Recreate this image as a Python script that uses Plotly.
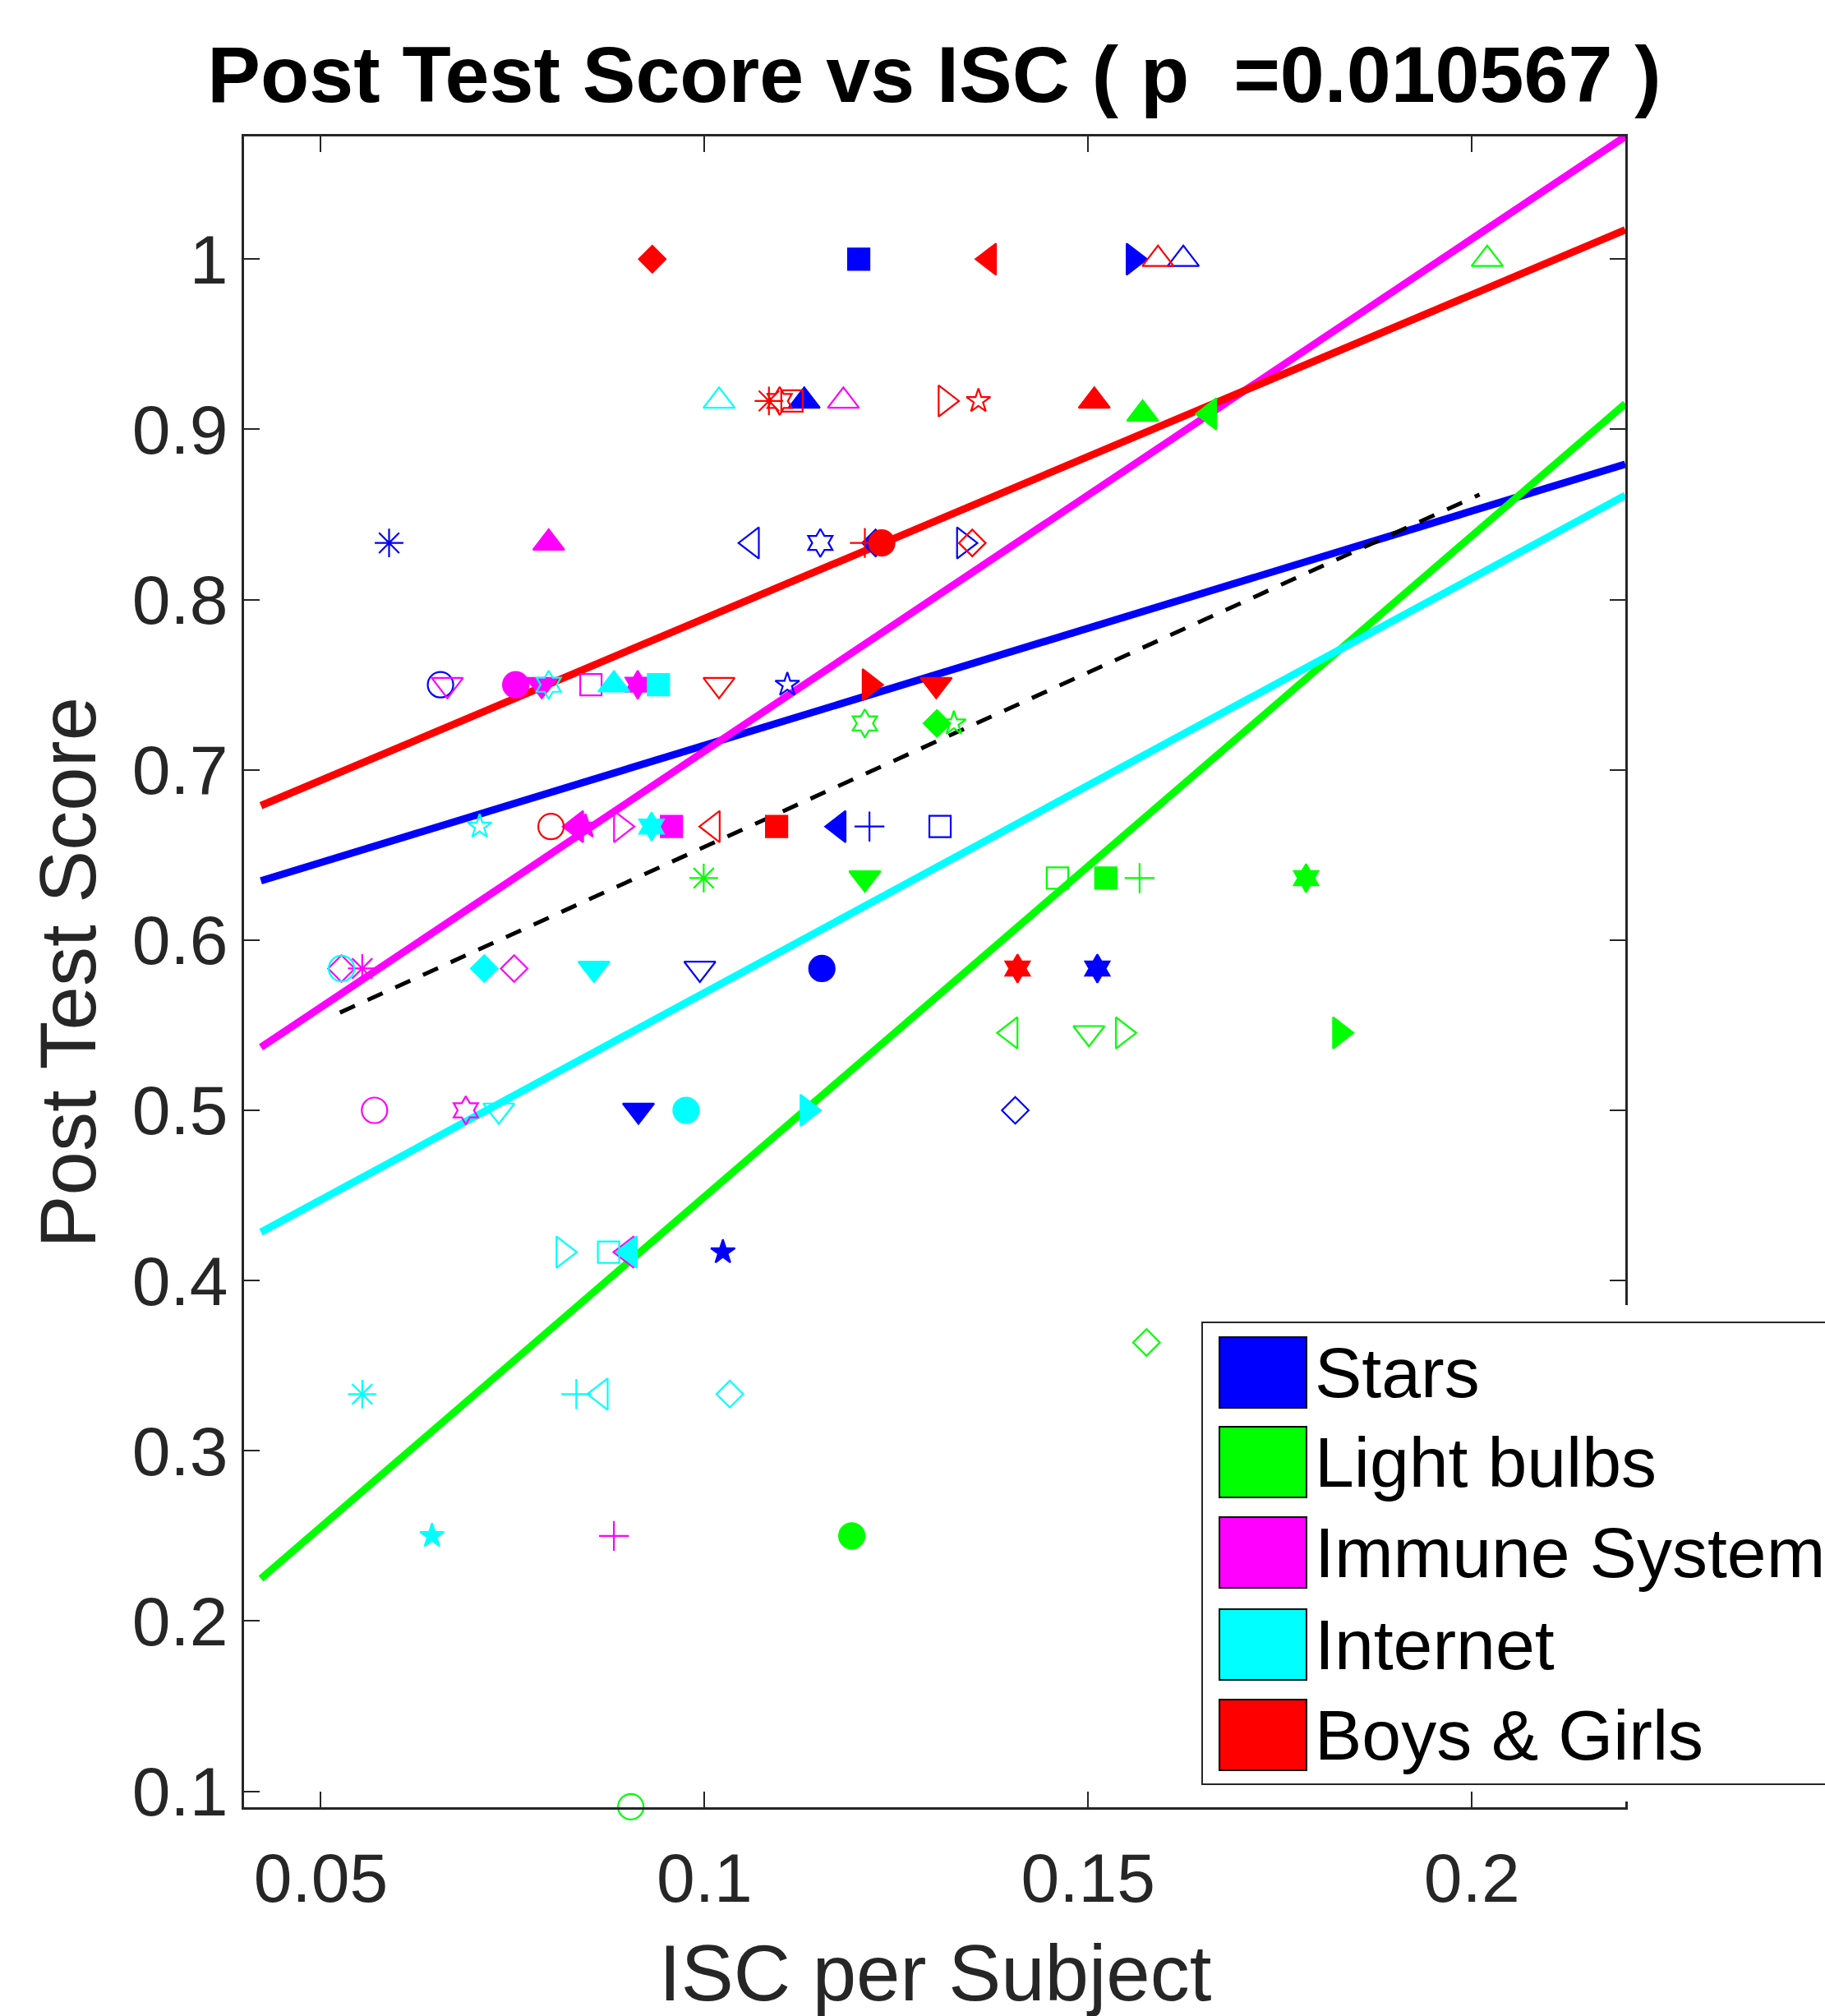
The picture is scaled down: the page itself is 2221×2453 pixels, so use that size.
import plotly.graph_objects as go

# ---------------- data ----------------
topics = ["Stars", "Light bulbs", "Immune System", "Internet", "Boys & Girls"]
topic_colors = ["#0000FF", "#00FF00", "#FF00FF", "#00FFFF", "#FF0000"]

stars_x = [0.0589, 0.0656, 0.1201, 0.1559, 0.1624, 0.1130, 0.1062, 0.1151, 0.1223, 0.1338,
           0.1108, 0.1175, 0.1215, 0.1307, 0.0994, 0.1153, 0.1512, 0.0914, 0.1405, 0.1024]
stars_y = [0.8333, 0.75, 1.0, 1.0, 1.0, 0.9167, 0.8333, 0.8333, 0.8333, 0.8333,
           0.75, 0.6667, 0.6667, 0.6667, 0.5833, 0.5833, 0.5833, 0.5, 0.5, 0.4167]
stars_subject = ["asterisk-open", "circle-open", "square", "triangle-right", "triangle-up-open",
                 "triangle-up", "triangle-left-open", "hexagram-open", "diamond", "triangle-right-open",
                 "star-open", "triangle-left", "cross-thin-open", "square-open", "triangle-down-open",
                 "circle", "hexagram", "triangle-down", "diamond-open", "star"]

bulbs_x = [0.2020, 0.1571, 0.1658, 0.1209, 0.1303, 0.1325, 0.0999, 0.1209, 0.1460, 0.1523,
           0.1567, 0.1784, 0.1399, 0.1501, 0.1545, 0.1828, 0.1576, 0.1192, 0.0904]
bulbs_y = [1.0, 0.9091, 0.9091, 0.7273, 0.7273, 0.7273, 0.6364, 0.6364, 0.6364, 0.6364,
           0.6364, 0.6364, 0.5455, 0.5455, 0.5455, 0.5455, 0.3636, 0.25, 0.0909]
bulbs_subject = ["triangle-up-open", "triangle-up", "triangle-left", "hexagram-open", "diamond",
                 "star-open", "asterisk-open", "triangle-down", "square-open", "square",
                 "cross-thin-open", "hexagram", "triangle-left-open", "triangle-down-open",
                 "triangle-right-open", "triangle-right", "diamond-open", "circle", "circle-open"]

immune_x = [0.0797, 0.0665, 0.0754, 0.0788, 0.0852, 0.0913, 0.1181, 0.0833, 0.0845, 0.0891,
            0.0957, 0.0527, 0.0554, 0.0752, 0.0570, 0.0689, 0.0882, 0.0899]
immune_y = [0.8333, 0.75, 0.75, 0.75, 0.75, 0.75, 0.9167, 0.6667, 0.6667, 0.6667,
            0.6667, 0.5833, 0.5833, 0.5833, 0.5, 0.5, 0.25, 0.4167]
immune_subject = ["triangle-up", "triangle-down-open", "circle", "triangle-down", "square-open",
                  "hexagram", "triangle-up-open", "triangle-left", "star", "triangle-right-open",
                  "square", "diamond-open", "asterisk-open", "diamond-open", "circle-open",
                  "hexagram-open", "cross-thin-open", "triangle-left-open"]

internet_x = [0.1019, 0.0797, 0.0882, 0.0940, 0.0707, 0.0931, 0.0527, 0.0713, 0.0856, 0.0732,
              0.0976, 0.1134, 0.0816, 0.0875, 0.0903, 0.0554, 0.0833, 0.0865, 0.1033, 0.0645]
internet_y = [0.9167, 0.75, 0.75, 0.75, 0.6667, 0.6667, 0.5833, 0.5833, 0.5833, 0.5,
              0.5, 0.5, 0.4167, 0.4167, 0.4167, 0.3333, 0.3333, 0.3333, 0.3333, 0.25]
internet_subject = ["triangle-up-open", "hexagram-open", "triangle-up", "square", "star-open",
                    "hexagram", "circle-open", "diamond", "triangle-down", "triangle-down-open",
                    "circle", "triangle-right", "triangle-right-open", "square-open", "triangle-left",
                    "asterisk-open", "cross-thin-open", "triangle-left-open", "diamond-open", "star"]

boys_x = [0.0932, 0.1371, 0.1591, 0.1084, 0.1098, 0.1114, 0.1314, 0.1357, 0.1508, 0.1209,
          0.1231, 0.1349, 0.1019, 0.1215, 0.1302, 0.0800, 0.1011, 0.1094, 0.1408]
boys_y = [1.0, 1.0, 1.0, 0.9167, 0.9167, 0.9167, 0.9167, 0.9167, 0.9167, 0.8333,
          0.8333, 0.8333, 0.75, 0.75, 0.75, 0.6667, 0.6667, 0.6667, 0.5833]
boys_subject = ["diamond", "triangle-left", "triangle-up-open", "asterisk-open", "hexagram-open",
                "square-open", "triangle-right-open", "star-open", "triangle-up", "cross-thin-open",
                "circle", "diamond-open", "triangle-down-open", "triangle-right", "triangle-down",
                "circle-open", "triangle-left-open", "square", "hexagram"]

# per-topic regression lines (end points)
fit_x = [0.0422, 0.22]
stars_fit_y = [0.6348, 0.8796]
bulbs_fit_y = [0.2249, 0.9151]
immune_fit_y = [0.5370, 1.0721]
internet_fit_y = [0.4284, 0.8613]
boys_fit_y = [0.6790, 1.0172]

# overall regression line (dashed)
all_fit_x = [0.0525, 0.2010]
all_fit_y = [0.5574, 0.8617]

x_ticks = [0.05, 0.1, 0.15, 0.2]
x_tick_labels = ["0.05", "0.1", "0.15", "0.2"]
y_ticks = [0.1, 0.2, 0.3, 0.4, 0.5, 0.6, 0.7, 0.8, 0.9, 1.0]
y_tick_labels = ["0.1", "0.2", "0.3", "0.4", "0.5", "0.6", "0.7", "0.8", "0.9", "1"]

title_text = "Post Test Score vs ISC ( p\u00a0 =0.010567 )"

# ---------------- figure ----------------
W, H = 2221, 2453
ML, MR, MT, MB = 297, 243, 166, 254
PW, PH = W - ML - MR, H - MT - MB
FONT = "Liberation Sans, Arial, Helvetica, sans-serif"
AXC = "#262626"


def px_x(p):
    return (p - ML) / PW


def px_y(p):
    return (H - MB - p) / PH


SIZE = {"circle": 31, "square": 26, "diamond": 25, "triangle-up": 33, "triangle-down": 33,
        "triangle-left": 33, "triangle-right": 33, "star": 22, "hexagram": 26,
        "asterisk": 29, "cross-thin": 26}


def sizes(symbols):
    return [SIZE[s.replace("-open", "")] for s in symbols]


groups = [
    (stars_x, stars_y, stars_subject, stars_fit_y),
    (bulbs_x, bulbs_y, bulbs_subject, bulbs_fit_y),
    (immune_x, immune_y, immune_subject, immune_fit_y),
    (internet_x, internet_y, internet_subject, internet_fit_y),
    (boys_x, boys_y, boys_subject, boys_fit_y),
]

fig = go.Figure()

for name, color, (gx, gy, gs, gf) in zip(topics, topic_colors, groups):
    fig.add_trace(go.Scatter(x=fit_x, y=gf, mode="lines", name=name + " fit",
                             line=dict(color=color, width=9), showlegend=False,
                             hoverinfo="skip"))

fig.add_trace(go.Scatter(x=all_fit_x, y=all_fit_y, mode="lines", name="All topics fit",
                         line=dict(color="black", width=5, dash="20px,17px"),
                         showlegend=False))

for name, color, (gx, gy, gs, gf) in zip(topics, topic_colors, groups):
    fig.add_trace(go.Scatter(x=gx, y=gy, mode="markers", name=name, showlegend=False,
                             cliponaxis=False,
                             marker=dict(symbol=gs, size=sizes(gs), color=color, opacity=1,
                                         line=dict(color=color, width=2.2))))

axis_common = dict(showgrid=False, zeroline=False, showline=True, linecolor=AXC, linewidth=2.5,
                   mirror="ticks", ticks="inside", ticklen=19, tickwidth=2, tickcolor=AXC,
                   tickfont=dict(family=FONT, size=84, color=AXC))

fig.update_xaxes(range=[0.04, 0.22], tickvals=x_ticks, ticktext=x_tick_labels,
                 ticklabelstandoff=11, **axis_common)
fig.update_yaxes(range=[0.0906, 1.0721], tickvals=y_ticks, ticktext=y_tick_labels, **axis_common)

shapes = []
annotations = []

# hide right axis segment behind legend area (as in the original)
shapes.append(dict(type="rect", xref="paper", yref="paper", layer="above",
                   x0=px_x(1950), x1=px_x(2005), y0=px_y(2192), y1=px_y(1588),
                   fillcolor="white", line=dict(width=0)))
# legend box
shapes.append(dict(type="rect", xref="paper", yref="paper", layer="above",
                   x0=px_x(1463), x1=px_x(2260), y0=px_y(2171), y1=px_y(1609),
                   fillcolor="white", line=dict(color=AXC, width=2)))
legend_centers = [1670, 1779, 1889, 2001, 2111]
for name, color, c in zip(topics, topic_colors, legend_centers):
    shapes.append(dict(type="rect", xref="paper", yref="paper", layer="above",
                       x0=px_x(1484), x1=px_x(1590), y0=px_y(c + 43), y1=px_y(c - 43),
                       fillcolor=color, line=dict(color="black", width=2)))
    annotations.append(dict(xref="paper", yref="paper", x=px_x(1598), y=px_y(c),
                            xanchor="left", yanchor="middle", showarrow=False, text=name,
                            font=dict(family=FONT, size=86, color="black")))

# axis titles
annotations.append(dict(xref="paper", yref="paper", x=0.5, y=px_y(2400), xanchor="center",
                        yanchor="middle", showarrow=False, text="ISC per Subject",
                        font=dict(family=FONT, size=96, color=AXC)))
annotations.append(dict(xref="paper", yref="paper", x=px_x(82), y=0.5, xanchor="center",
                        yanchor="middle", showarrow=False, text="Post Test Score", textangle=-90,
                        font=dict(family=FONT, size=96, color=AXC)))

fig.update_layout(
    width=W, height=H,
    margin=dict(l=ML, r=MR, t=MT, b=MB, autoexpand=False),
    paper_bgcolor="white", plot_bgcolor="white",
    showlegend=False,
    title=dict(text="<b>" + title_text + "</b>", x=1137 / W, xanchor="center",
               y=1 - 90 / H, yanchor="middle", yref="container",
               font=dict(family=FONT, size=97, color="black")),
    shapes=shapes,
    annotations=annotations,
)

fig.write_html("out.html")
